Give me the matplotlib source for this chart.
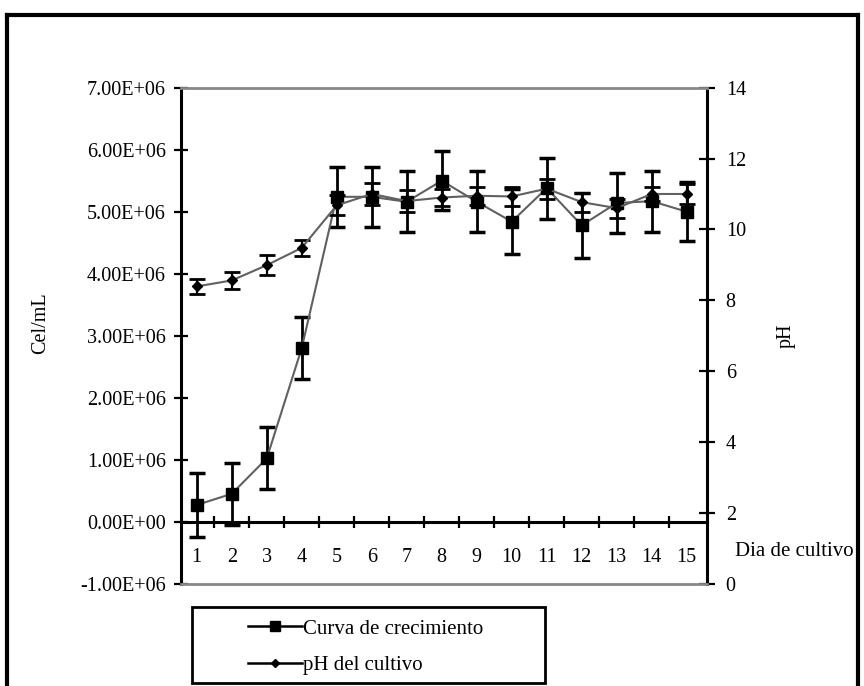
import matplotlib
matplotlib.use("Agg")
import matplotlib.pyplot as plt
from matplotlib.lines import Line2D
from matplotlib.patches import Rectangle
from matplotlib.ticker import FuncFormatter, MultipleLocator
import numpy as np

plt.rcParams['font.family'] = ['Liberation Serif', 'DejaVu Serif']

# datos
dias = [1, 2, 3, 4, 5, 6, 7, 8, 9, 10, 11, 12, 13, 14, 15]
cel = [0.27e6, 0.45e6, 1.02e6, 2.80e6, 5.24e6, 5.24e6, 5.16e6, 5.50e6,
       5.16e6, 4.84e6, 5.38e6, 4.78e6, 5.14e6, 5.17e6, 5.00e6]
cel_err = [0.52e6, 0.50e6, 0.50e6, 0.50e6, 0.48e6, 0.48e6, 0.49e6, 0.48e6,
           0.49e6, 0.52e6, 0.49e6, 0.52e6, 0.49e6, 0.49e6, 0.48e6]
ph = [8.39, 8.56, 8.99, 9.48, 10.68, 11.0, 10.8, 10.9, 10.95, 10.93,
      11.15, 10.77, 10.6, 11.0, 11.0]
ph_err = [0.22, 0.23, 0.29, 0.22, 0.28, 0.30, 0.30, 0.25, 0.25, 0.28,
          0.28, 0.27, 0.27, 0.20, 0.28]

fs = 14.5
line_col = '#606060'

fig = plt.figure(figsize=(8.64, 6.86), dpi=100)
ax1 = fig.add_axes([181 / 864, 1 - 583.7 / 686, 526 / 864, 496 / 686])
ax2 = ax1.twinx()

# curva de crecimiento (eje izquierdo)
ax1.errorbar(dias, cel, yerr=cel_err, color=line_col, lw=1.5,
             marker='s', ms=8, mfc='black', mec='black',
             ecolor='black', elinewidth=2, capsize=6, capthick=2.5, zorder=3)
# pH (eje derecho)
ax2.errorbar(dias, ph, yerr=ph_err, color=line_col, lw=1.5,
             marker='D', ms=5, mfc='black', mec='black',
             ecolor='black', elinewidth=1.6, capsize=5.5, capthick=2, zorder=3)

ax1.set_xlim(0.55, 15.58)
ax1.set_ylim(-1e6, 7e6)
ax2.set_ylim(0, 14)

ax1.yaxis.set_major_locator(MultipleLocator(1e6))
ax1.yaxis.set_major_formatter(FuncFormatter(lambda v, p: '%.2E' % v))
ax2.yaxis.set_major_locator(MultipleLocator(2))

# eje x en y = 0
ax1.spines['bottom'].set_position(('data', 0))
ax1.spines['bottom'].set_linewidth(2.2)
ax1.set_xticks(dias)
ax1.set_xticks(np.arange(1.5, 15, 1), minor=True)
ax1.tick_params(axis='x', which='major', length=0, pad=19, labelsize=fs)
ax1.tick_params(axis='x', which='minor', direction='inout', length=9, width=1.6)

ax1.tick_params(axis='y', direction='inout', length=10, width=1.6, pad=6,
                labelsize=fs)
ax2.tick_params(axis='y', direction='inout', length=11, width=1.6, pad=8,
                labelsize=fs)

ax1.spines['top'].set_visible(False)
ax1.spines['left'].set_linewidth(2.2)
ax2.spines['left'].set_visible(False)
ax2.spines['right'].set_linewidth(2.2)
ax2.spines['top'].set_color('#888888')
ax2.spines['top'].set_linewidth(2)
ax2.spines['bottom'].set_color('#888888')
ax2.spines['bottom'].set_linewidth(2)

ax1.set_ylabel('Cel/mL', fontsize=fs)
ax1.yaxis.set_label_coords(-0.249, 0.525)
ax2.set_ylabel('pH', fontsize=fs, rotation=90)
ax2.yaxis.set_label_coords(1.132, 0.50)
ax1.text(1.053, 0.0645, 'Dia de cultivo', transform=ax1.transAxes,
         ha='left', va='center', fontsize=15)

# leyenda
handles = [Line2D([], [], color='black', lw=1.8, marker='s', ms=7),
           Line2D([], [], color='black', lw=1.8, marker='D', ms=4)]
fig.legend(handles, ['Curva de crecimiento', 'pH del cultivo'],
           loc='upper left', bbox_to_anchor=(248 / 864, 1 - 619 / 686),
           frameon=False, borderpad=0, borderaxespad=0, handlelength=2.6,
           handletextpad=0.05, labelspacing=0.82, fontsize=15, numpoints=1)
fig.patches.append(Rectangle((191.7 / 864, 1 - 683.3 / 686), 353.3 / 864, 76.6 / 686,
                             transform=fig.transFigure, fill=False,
                             edgecolor='black', lw=2))

# marco exterior
fig.lines.append(Line2D([7 / 864, 7 / 864], [0, 1 - 15 / 686],
                        transform=fig.transFigure, color='black', lw=3))
fig.lines.append(Line2D([7 / 864, 858 / 864], [1 - 15 / 686, 1 - 15 / 686],
                        transform=fig.transFigure, color='black', lw=3))
fig.lines.append(Line2D([858 / 864, 858 / 864], [0, 1 - 15 / 686],
                        transform=fig.transFigure, color='black', lw=3))

fig.savefig('out.png', dpi=100)
